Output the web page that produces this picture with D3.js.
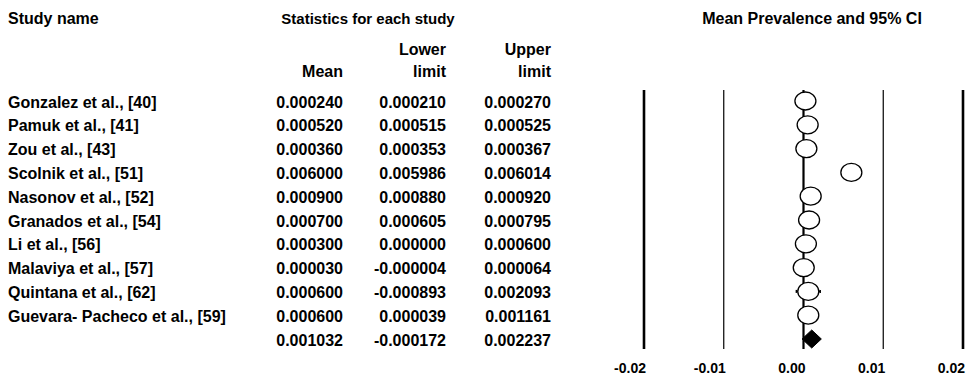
<!DOCTYPE html>
<html>
<head>
<meta charset="utf-8">
<script src="https://cdn.jsdelivr.net/npm/d3@7"></script>
<style>
  html, body { margin: 0; padding: 0; background: #fff; }
  svg text { font-family: "Liberation Sans", Arial, sans-serif; font-weight: bold; fill: #000; }
</style>
</head>
<body>
<svg id="chart" width="966" height="375"></svg>
<script>
// ─── Data ────────────────────────────────────────────────────────────
const studies = [
  "Gonzalez et al., [40]",
  "Pamuk et al., [41]",
  "Zou et al., [43]",
  "Scolnik et al., [51]",
  "Nasonov et al., [52]",
  "Granados et al., [54]",
  "Li et al., [56]",
  "Malaviya et al., [57]",
  "Quintana et al., [62]",
  "Guevara- Pacheco et al., [59]",
];
const means  = [0.000240, 0.000520, 0.000360, 0.006000, 0.000900, 0.000700, 0.000300, 0.000030, 0.000600, 0.000600];
const lowers = [0.000210, 0.000515, 0.000353, 0.005986, 0.000880, 0.000605, 0.000000, -0.000004, -0.000893, 0.000039];
const uppers = [0.000270, 0.000525, 0.000367, 0.006014, 0.000920, 0.000795, 0.000600, 0.000064, 0.002093, 0.001161];
const summary = { mean: 0.001032, lower: -0.000172, upper: 0.002237 };
const xTicks = [-0.02, -0.01, 0.00, 0.01, 0.02];

const svg = d3.select("#chart");

// ─── Scales ──────────────────────────────────────────────────────────
const x = d3.scaleLinear().domain([-0.02, 0.02]).range([644, 963]);
const rowIds = d3.range(studies.length + 1);
const y = d3.scalePoint().domain(rowIds).range([101, 339]);

const fmt = (v) => v.toFixed(6);
const FS = 16;

// ─── Headers ─────────────────────────────────────────────────────────
const hdr = svg.append("g").attr("font-size", FS);
hdr.append("text").attr("x", 8).attr("y", 24).text("Study name");
hdr.append("text").attr("x", 368).attr("y", 24).attr("text-anchor", "middle").attr("font-size", 15).text("Statistics for each study");
hdr.append("text").attr("x", 812).attr("y", 24).attr("text-anchor", "middle").text("Mean Prevalence and 95% CI");

const colMean = 343, colLower = 446, colUpper = 551;
hdr.append("text").attr("x", colMean).attr("y", 77).attr("text-anchor", "end").text("Mean");
hdr.append("text").attr("x", colLower).attr("y", 55).attr("text-anchor", "end").text("Lower");
hdr.append("text").attr("x", colLower).attr("y", 77).attr("text-anchor", "end").text("limit");
hdr.append("text").attr("x", colUpper).attr("y", 55).attr("text-anchor", "end").text("Upper");
hdr.append("text").attr("x", colUpper).attr("y", 77).attr("text-anchor", "end").text("limit");

// ─── Table rows ──────────────────────────────────────────────────────
const rows = studies.map((s, i) => ({ name: s, mean: means[i], lower: lowers[i], upper: uppers[i], i }));
const allRows = rows.concat([{ name: "", mean: summary.mean, lower: summary.lower, upper: summary.upper, i: studies.length }]);

const rowG = svg.append("g").attr("font-size", FS)
  .selectAll("g.row").data(allRows).join("g")
  .attr("class", "row")
  .attr("transform", (d) => `translate(0,${y(d.i) + 6.5})`);
rowG.append("text").attr("x", 8).text((d) => d.name);
rowG.append("text").attr("x", colMean).attr("text-anchor", "end").text((d) => fmt(d.mean));
rowG.append("text").attr("x", colLower).attr("text-anchor", "end").text((d) => fmt(d.lower));
rowG.append("text").attr("x", colUpper).attr("text-anchor", "end").text((d) => fmt(d.upper));

// ─── Forest plot ─────────────────────────────────────────────────────
const plotTop = 90, plotBottom = 349;
const plot = svg.append("g");

plot.selectAll("line.grid").data(xTicks).join("line")
  .attr("class", "grid")
  .attr("x1", (d) => x(d)).attr("x2", (d) => x(d))
  .attr("y1", plotTop).attr("y2", plotBottom)
  .attr("stroke", "#000")
  .attr("stroke-width", (d) => (d === 0 ? 2.2 : Math.abs(d) === 0.01 ? 1.2 : 2.6));

// CI whiskers
const ci = plot.selectAll("g.ci").data(rows).join("g").attr("class", "ci");
ci.append("line")
  .attr("x1", (d) => x(d.lower)).attr("x2", (d) => x(d.upper))
  .attr("y1", (d) => y(d.i)).attr("y2", (d) => y(d.i))
  .attr("stroke", "#000").attr("stroke-width", 1.5);
ci.selectAll("line.cap").data((d) => [d.lower, d.upper].map((v) => ({ v, i: d.i }))).join("line")
  .attr("class", "cap")
  .attr("x1", (e) => x(e.v)).attr("x2", (e) => x(e.v))
  .attr("y1", (e) => y(e.i) - 1.5).attr("y2", (e) => y(e.i) + 1.5)
  .attr("stroke", "#000").attr("stroke-width", 1.5);

// Study markers
plot.selectAll("ellipse.pt").data(rows).join("ellipse")
  .attr("class", "pt")
  .attr("cx", (d) => x(d.mean))
  .attr("cy", (d) => y(d.i))
  .attr("rx", 10.5).attr("ry", 9)
  .attr("fill", "#fff")
  .attr("stroke", "#000")
  .attr("stroke-width", 1.3);

// Summary diamond
const sy = y(studies.length);
const dh = 9;
plot.append("path")
  .attr("d", `M${x(summary.lower)},${sy} L${x(summary.mean)},${sy - dh} L${x(summary.upper)},${sy} L${x(summary.mean)},${sy + dh} Z`)
  .attr("fill", "#000")
  .attr("stroke", "#000")
  .attr("stroke-width", 1);

// ─── X axis labels ───────────────────────────────────────────────────
svg.append("g").attr("font-size", 14)
  .selectAll("text").data(xTicks).join("text")
  .attr("x", (d) => x(d) + 2)
  .attr("y", 373)
  .attr("text-anchor", "end")
  .text((d) => d.toFixed(2));
</script>
</body>
</html>
